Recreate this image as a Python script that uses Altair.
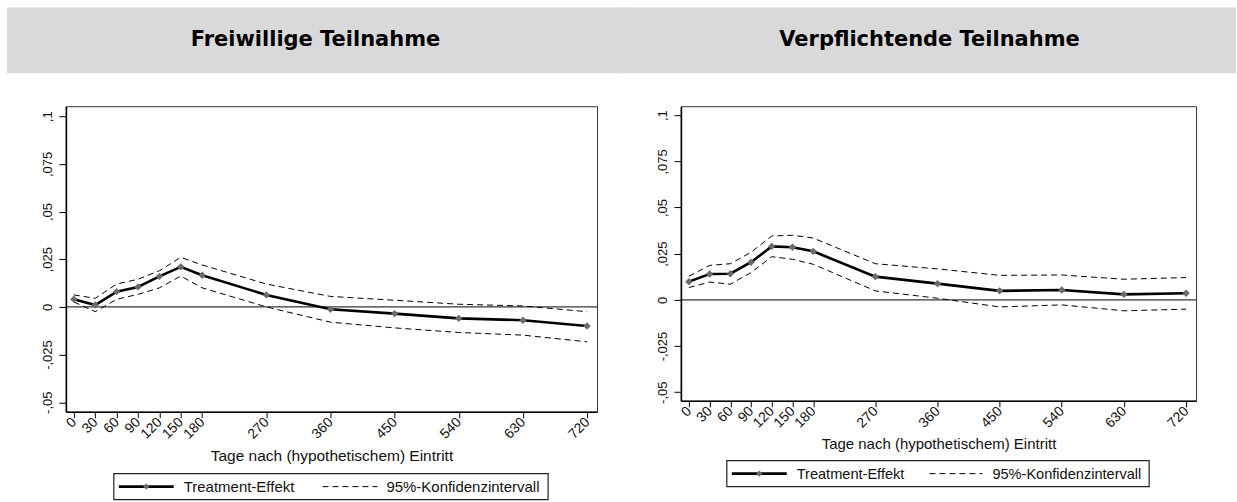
import altair as alt
import pandas as pd

# ---------------- data ----------------
DAYS = [0, 30, 60, 90, 120, 150, 180, 270, 360, 450, 540, 630, 720]
Y_TICKS = [-0.05, -0.025, 0, 0.025, 0.05, 0.075, 0.1]
Y_TICK_LABELS = ["-,05", "-,025", "0", ",025", ",05", ",075", ",1"]

PANEL_TITLES = ["Freiwillige Teilnahme", "Verpflichtende Teilnahme"]
X_TITLE = "Tage nach (hypothetischem) Eintritt"
LEGEND_LABELS = ["Treatment-Effekt", "95%-Konfidenzintervall"]

FREI_EFFECT = [0.004, 0.001, 0.008, 0.0105, 0.016, 0.021, 0.0166, 0.0063, -0.0012, -0.0035, -0.006, -0.007, -0.010]
FREI_UPPER = [0.0063, 0.0045, 0.012, 0.0145, 0.019, 0.026, 0.022, 0.012, 0.0055, 0.0035, 0.0014, 0.0005, -0.0025]
FREI_LOWER = [0.0026, -0.0025, 0.004, 0.0066, 0.010, 0.0162, 0.010, 0.0, -0.008, -0.011, -0.0134, -0.0148, -0.0183]

VERP_EFFECT = [0.0099, 0.014, 0.0142, 0.0204, 0.029, 0.0285, 0.0263, 0.0126, 0.0088, 0.0049, 0.0054, 0.003, 0.0036]
VERP_UPPER = [0.0128, 0.0187, 0.0196, 0.0258, 0.0346, 0.035, 0.0335, 0.0196, 0.0168, 0.0133, 0.0135, 0.0112, 0.0121]
VERP_LOWER = [0.0067, 0.0097, 0.0085, 0.0148, 0.0234, 0.022, 0.0193, 0.0049, 0.0009, -0.0038, -0.0027, -0.0059, -0.005]

MARKER_GRAY = "#6b6b6b"
BAND_GRAY = "#d9d9d9"
LABEL_FONT = "Liberation Sans"


def label_expr(values, labels):
    expr = "''"
    for v, l in zip(values, labels):
        expr = f"abs(datum.value - ({v})) < 1e-9 ? '{l}' : " + expr
    return expr


ONE = alt.Data(values=[{"k": 0}])


def panel(title, effect, upper, lower, width, height, xdom, ydom, geo):
    df = pd.DataFrame({"day": DAYS, "effect": effect, "upper": upper, "lower": lower})

    xscale = alt.Scale(domain=xdom, nice=False, zero=False)
    yscale = alt.Scale(domain=ydom, nice=False, zero=False)
    xaxis = alt.Axis(
        values=DAYS, format="d", labelAngle=315, labelAlign="right", labelBaseline="middle",
        labelPadding=2, tickSize=6, tickColor="black", tickWidth=1,
        domainColor="black", domainWidth=1.6, grid=False,
        labelFont=LABEL_FONT, labelFontSize=14, labelColor="#111",
        labelOverlap=False, labelFlush=False,
        title=X_TITLE, titleFont=LABEL_FONT, titleFontSize=geo["tfs"], titleFontWeight="normal",
        titleColor="#111", titleY=geo["titleY"], titleBaseline="alphabetic",
    )
    yaxis = alt.Axis(
        values=Y_TICKS, labelExpr=label_expr(Y_TICKS, Y_TICK_LABELS), labelAngle=270,
        labelAlign="center", labelBaseline="bottom", labelPadding=4, tickSize=7,
        tickColor="black", tickWidth=1, domainColor="black", domainWidth=1.6, grid=False,
        labelFont=LABEL_FONT, labelFontSize=13, labelColor="#111", labelOverlap=False,
        labelFlush=False, title=None,
    )
    xenc = alt.X("day:Q", scale=xscale, axis=xaxis)

    layers = []
    # header band and title
    layers.append(
        alt.Chart(ONE).mark_rect(color=BAND_GRAY).encode(
            x=alt.value(geo["band"][0]), x2=alt.value(geo["band"][1]),
            y=alt.value(-99), y2=alt.value(-33),
        )
    )
    layers.append(
        alt.Chart(ONE).mark_text(font="DejaVu Sans", fontWeight="bold", fontSize=21,
                                 color="black", align="center", baseline="alphabetic").encode(
            x=alt.value(geo["titleX"]), y=alt.value(-60), text=alt.value(title)
        )
    )

    base = alt.Chart(df)
    zero = alt.Chart(ONE).mark_rule(color="black", strokeWidth=1).encode(
        y=alt.YDatum(0, scale=yscale, axis=yaxis, type="quantitative")
    )
    ci = base.transform_fold(["upper", "lower"], as_=["bound", "value"]).mark_line(
        color="black", strokeWidth=1, strokeDash=[6, 4]
    ).encode(x=xenc, y=alt.Y("value:Q", scale=yscale, axis=yaxis), detail="bound:N")
    line = base.mark_line(color="black", strokeWidth=2.6).encode(
        x=xenc, y=alt.Y("effect:Q", scale=yscale, axis=yaxis)
    )
    pts = base.mark_point(shape="diamond", filled=True, color=MARKER_GRAY, size=55, opacity=1).encode(
        x=xenc, y=alt.Y("effect:Q", scale=yscale, axis=yaxis)
    )
    layers += [zero, ci, line, pts]

    # legend
    lg = geo["legend"]
    layers.append(
        alt.Chart(ONE).mark_rect(fill="white", stroke="#222", strokeWidth=1.2).encode(
            x=alt.value(lg["box"][0]), x2=alt.value(lg["box"][1]),
            y=alt.value(lg["box"][2]), y2=alt.value(lg["box"][3]),
        )
    )
    layers.append(
        alt.Chart(ONE).mark_rule(color="black", strokeWidth=2.6).encode(
            x=alt.value(lg["solid"][0]), x2=alt.value(lg["solid"][1]), y=alt.value(lg["ly"])
        )
    )
    layers.append(
        alt.Chart(ONE).mark_point(shape="diamond", filled=True, color=MARKER_GRAY, size=40, opacity=1).encode(
            x=alt.value((lg["solid"][0] + lg["solid"][1]) / 2), y=alt.value(lg["ly"])
        )
    )
    layers.append(
        alt.Chart(ONE).mark_rule(color="black", strokeWidth=1, strokeDash=[6, 4]).encode(
            x=alt.value(lg["dash"][0]), x2=alt.value(lg["dash"][1]), y=alt.value(lg["ly"])
        )
    )
    for tx, txt in zip(lg["tx"], LEGEND_LABELS):
        layers.append(
            alt.Chart(ONE).mark_text(font=LABEL_FONT, fontSize=lg["fs"], color="#111",
                                     align="left", baseline="alphabetic").encode(
                x=alt.value(tx), y=alt.value(lg["tb"]), text=alt.value(txt)
            )
        )

    return alt.layer(*layers).properties(width=width, height=height)


left_geo = {
    "band": [-59, 560],
    "titleX": 250,
    "titleY": 49,
    "tfs": 15.5,
    "legend": {
        "box": [48, 483, 368, 394], "solid": [53, 108], "dash": [257, 312], "ly": 381,
        "tx": [118, 321], "tb": 386, "fs": 15,
    },
}
right_geo = {
    "band": [-60, 556],
    "titleX": 249,
    "titleY": 48,
    "tfs": 15,
    "legend": {
        "box": [46, 469, 355, 381], "solid": [51, 106], "dash": [249, 302], "ly": 368,
        "tx": [116, 312], "tb": 373, "fs": 14.6,
    },
}

left = panel(PANEL_TITLES[0], FREI_EFFECT, FREI_UPPER, FREI_LOWER, 532, 306,
             [-11.2, 734], [-0.05497, 0.10524], left_geo)
right = panel(PANEL_TITLES[1], VERP_EFFECT, VERP_UPPER, VERP_LOWER, 516, 295,
              [-11.6, 734.5], [-0.0546, 0.10486], right_geo)

chart = alt.hconcat(left, right, spacing=84, bounds="flush").properties(
    padding={"left": 6, "top": 6, "right": 0, "bottom": 0}, background="white"
).configure_view(stroke="#333", strokeWidth=1)

chart.save("out.html", embed_options={"renderer": "svg", "actions": False})
